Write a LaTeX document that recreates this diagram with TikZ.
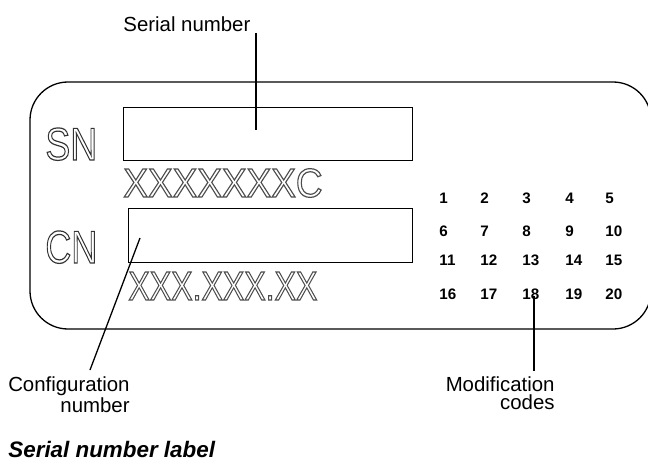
\documentclass[tikz,border=0pt]{standalone}
\usepackage{fontspec}
\setmainfont{Liberation Sans}
\usepackage{graphicx}
\usetikzlibrary{positioning}

% hollow (outlined) glyphs for the printed marks
\newcommand{\hollowtext}[1]{\special{pdf:literal 1 Tr 0.6 w}#1\special{pdf:literal 0 Tr}}

\tikzset{
  callout/.style={font=\fontsize{10.2}{9}\selectfont, inner sep=0pt},
  leader/.style={line width=0.65pt},
  modcode/.style={font=\fontsize{7.6}{8}\selectfont\bfseries, anchor=base west, inner sep=0pt},
  bigmark/.style={font=\fontsize{23}{23}\selectfont, text=black!80, anchor=base west, inner sep=0pt},
  idmark/.style={font=\fontsize{20.3}{20}\selectfont, text=black!70, anchor=base west, inner sep=0pt},
  field/.style={draw, line width=0.65pt, inner sep=0pt, anchor=north west}
}

\begin{document}
\begin{tikzpicture}[x=0.5pt,y=-0.5pt]
\useasboundingbox (0,0) rectangle (648,460);

% label plate
\draw[line width=0.65pt, rounded corners=19pt] (30,82) rectangle (651,329);

\node[field, minimum width=144.5pt, minimum height=26.5pt] (snbox) at (123,107) {};
\node[field, minimum width=142pt, minimum height=27pt] (cnbox) at (128,208) {};

\node[bigmark] (sn) at (45,160) {\scalebox{0.81}[1]{\hollowtext{SN}}};
\node[bigmark] (cn) at (45,263) {\scalebox{0.78}[1]{\hollowtext{CN}}};
\node[idmark] (snval) at (123,197) {\scalebox{0.91}[1]{\hollowtext{XXXXXXXC}}};
\node[idmark] (cnval) at (128,300) {\scalebox{0.79}[1]{\hollowtext{XXX.XXX.XX}}};

% modification codes
\foreach \r/\y in {0/204,1/236,2/265,3/299}
  \foreach \c/\x in {1/439,2/480,3/522,4/565,5/605} {
    \pgfmathtruncatemacro\n{5*\r+\c}
    \node[modcode] (m\n) at (\x,\y) {\n};
  }

% callouts
\node[callout, anchor=base west] (serial) at (123,31.5) {Serial number};
\node[callout, anchor=north east, align=right] (config) at (130,376) {Configuration\\number};
\node[callout, anchor=north east, align=right] (modif) at (555,376) {Modification\\codes};
\node[font=\fontsize{11.2}{12}\selectfont\bfseries\itshape, anchor=base west, inner sep=0pt] (title) at (8,457) {Serial number label};

\coordinate (sntop) at (256,33);
\coordinate (snend) at (256,130);
\coordinate (cntop) at (140,238);
\coordinate (cnend) at (90,370);
\coordinate (modtop) at (534,296);
\coordinate (modend) at (534,371);

\draw[leader] (sntop) -- (snend);
\draw[leader] (cntop) -- (cnend);
\draw[leader] (modtop) -- (modend);
\end{tikzpicture}
\end{document}
